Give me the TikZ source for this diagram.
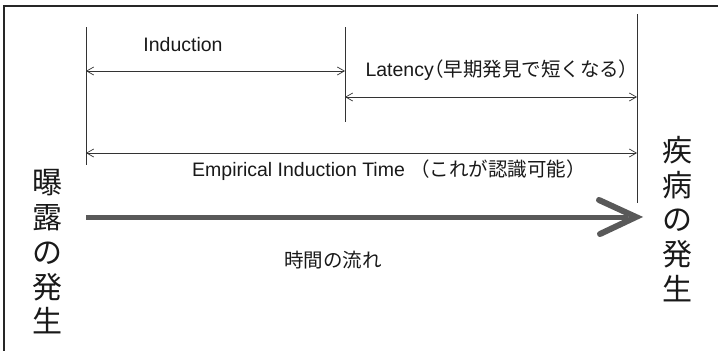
\documentclass[tikz,border=0pt]{standalone}
\usepackage{fontspec}
\setmainfont{Liberation Sans}
\newfontfamily\jp{Noto Sans CJK JP}
\newfontfamily\jpp[RawFeature=+palt]{Noto Sans CJK JP}
\usetikzlibrary{arrows.meta}
\begin{document}
\begin{tikzpicture}[x=1pt,y=-1pt,
  thinline/.style={draw=black!80,line width=0.7pt},
  dimarrow/.style={thinline,{Straight Barb[length=7pt,width=8pt]}-{Straight Barb[length=7pt,width=8pt]}},
  lbl/.style={inner sep=0pt,font=\fontsize{19.5}{23}\selectfont,text=black!90},
  bigtxt/.style={inner sep=0pt,align=center,font=\jp\fontsize{30}{34.7}\selectfont,text=black!90},
  flow/.style={draw=black!65,line width=5pt},
  flowhead/.style={draw=black!65,line width=6pt,line cap=round,line join=miter}]
\useasboundingbox (0,0) rectangle (718,351);
% frame (top and left edges)
\coordinate (fr1) at (718,6);
\coordinate (fr2) at (4,6);
\coordinate (fr3) at (4,351);
\draw[draw=black!85,line width=1.4pt] (fr1) -- (fr2) -- (fr3);
% vertical markers
\coordinate (v1t) at (86,27);  \coordinate (v1b) at (86,165);
\coordinate (v2t) at (345,27); \coordinate (v2b) at (345,122);
\coordinate (v3t) at (637,14); \coordinate (v3b) at (637,203);
\draw[thinline] (v1t) -- (v1b);
\draw[thinline] (v2t) -- (v2b);
\draw[thinline] (v3t) -- (v3b);
% dimension arrows
\coordinate (ia) at (86,71);  \coordinate (ib) at (345,71);
\coordinate (la) at (345,97); \coordinate (lb) at (637,97);
\coordinate (ea) at (86,153); \coordinate (eb) at (637,153);
\draw[dimarrow] (ia) -- (ib);
\draw[dimarrow] (la) -- (lb);
\draw[dimarrow] (ea) -- (eb);
% labels
\node[lbl] (induction) at (183,45) {Induction};
\node[lbl,anchor=east] (latency) at (629,70) {Latency{\jpp（}{\jp 早期発見で短くなる}{\jpp）}};
\node[lbl] (empirical) at (389,170) {Empirical Induction Time {\jp（これが認識可能）}};
% time flow arrow
\coordinate (ta) at (86,217);
\coordinate (tb) at (628,217);
\coordinate (tip) at (636,217);
\coordinate (hu) at (599,200);
\coordinate (hl) at (600,234);
\draw[flow] (ta) -- (tb);
\draw[flowhead] (hu) -- (tip) -- (hl);
\node[lbl,font=\jp\fontsize{19.5}{23}\selectfont] (flowlbl) at (333,260) {時間の流れ};
% vertical texts
\node[bigtxt] (exposure) at (47,252) {曝\\露\\の\\発\\生};
\node[bigtxt] (disease) at (677,219) {疾\\病\\の\\発\\生};
\end{tikzpicture}
\end{document}
